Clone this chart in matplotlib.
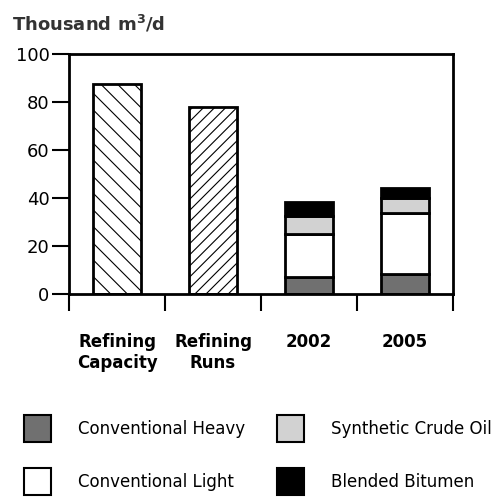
import matplotlib
matplotlib.use("Agg")
import matplotlib.pyplot as plt
import numpy as np
from matplotlib.patches import Rectangle

plt.rcParams["hatch.linewidth"] = 0.8
plt.rcParams["hatch.color"] = "#444444"

categories = ["Refining\nCapacity", "Refining\nRuns", "2002", "2005"]
refining = [87.5, 78.0]          # capacity, runs
refining_hatch = ["\\\\", "///"]
series = ["Conventional Heavy", "Conventional Light", "Synthetic Crude Oil", "Blended Bitumen"]
heavy = [7.0, 8.2]
light = [18.2, 25.6]
synthetic = [7.3, 6.0]
bitumen = [6.0, 4.5]
colors = ["#707070", "#ffffff", "#d2d2d2", "#000000"]

fig = plt.figure(figsize=(4.93, 4.97), dpi=100)
ax = fig.add_axes([69 / 493, 1 - 294 / 497, 384 / 493, 240 / 497])

x = np.arange(len(categories))
w = 0.5
for i, (v, h) in enumerate(zip(refining, refining_hatch)):
    ax.bar(x[i], v, w, color="white", edgecolor="black", linewidth=2, hatch=h, zorder=2)

stacks = [heavy, light, synthetic, bitumen]
bottom = np.zeros(2)
for vals, c in zip(stacks, colors):
    ax.bar(x[2:], vals, w, bottom=bottom, color=c, edgecolor="black", linewidth=2, zorder=2)
    bottom += np.array(vals)

ax.set_xlim(-0.5, 3.5)
ax.set_ylim(0, 100)
ax.set_yticks(range(0, 101, 20))
ax.set_xticks(np.arange(-0.5, 4, 1))
ax.set_xticklabels([])
ax.set_xticks(x, minor=True)
ax.set_xticklabels(categories, minor=True, fontsize=12, fontweight="bold")
ax.tick_params(axis="x", which="minor", length=0, pad=28)
ax.tick_params(axis="both", which="major", direction="out", length=12, width=1.5, labelsize=13)
ax.tick_params(axis="y", pad=2)
for s in ax.spines.values():
    s.set_linewidth(2)

fig.text(12 / 493, 1 - 24 / 497, "Thousand m$\\mathbf{^3}$/d", fontsize=13, fontweight="bold",
         color="#333333", va="center", ha="left")

# legend drawn by hand, two columns
leg_pos = [(24, 429), (24, 482), (277, 429), (277, 482)]
for (lx, ly), name, c in zip(leg_pos, series, colors):
    fig.add_artist(Rectangle((lx / 493, 1 - (ly + 13) / 497), 27 / 493, 27 / 497,
                             facecolor=c, edgecolor="black", linewidth=1.5,
                             transform=fig.transFigure))
    fig.text((lx + 54) / 493, 1 - ly / 497, name, fontsize=12, va="center", ha="left")

fig.savefig("out.png", dpi=100)
